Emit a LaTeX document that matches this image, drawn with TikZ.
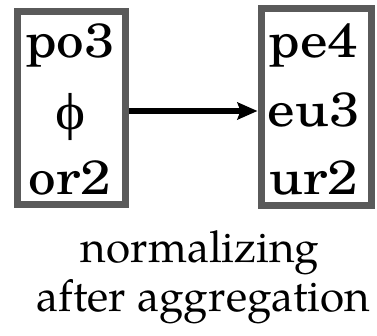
\documentclass[tikz,border=0pt]{standalone}
\usepackage{fontspec}
\usetikzlibrary{arrows.meta}
\newfontfamily\boxfont[Ligatures=TeX]{TeX Gyre Schola}
\newfontfamily\capfont[Ligatures=TeX]{TeX Gyre Pagella}
\newfontfamily\phifont{Liberation Serif}
\definecolor{boxgray}{HTML}{5A5A5A}
\tikzset{
  setbox/.style={draw=boxgray, line width=7pt, fill=white, inner sep=0pt},
  setitem/.style={anchor=base, inner sep=0pt, xscale=1.15, font=\boxfont\fontsize{48}{48}\selectfont},
  captxt/.style={anchor=base, inner sep=0pt, font=\capfont\fontsize{44}{44}\selectfont},
  flow/.style={line width=6.6pt, -{Stealth[length=20pt,width=17pt,inset=3pt]}}
}
\begin{document}
\begin{tikzpicture}[x=1pt,y=-1pt]
\useasboundingbox (0,0) rectangle (377,336);
\node[setbox, minimum width=108pt, minimum height=193pt] (L) at (71,108.5) {};
\node[setbox, minimum width=110pt, minimum height=197.5pt] (R) at (316,107.25) {};
\node[setitem] (l1) at (70,58) {po3};
\node[inner sep=0pt, xscale=1.1, font=\phifont\fontsize{52}{52}\selectfont] (l2) at (70.5,117) {ϕ};
\node[setitem] (l3) at (70,195) {or2};
\node[setitem] (r1) at (313.5,58) {pe4};
\node[setitem] (r2) at (314,127) {eu3};
\node[setitem] (r3) at (314,195) {ur2};
\coordinate (a0) at (L.east |- 0,111);
\coordinate (a1) at (R.west |- 0,111);
\draw[flow] (a0) -- (a1);
\node[captxt] (c1) at (200,263) {normalizing};
\node[captxt] (c2) at (203,312) {after aggregation};
\end{tikzpicture}
\end{document}
